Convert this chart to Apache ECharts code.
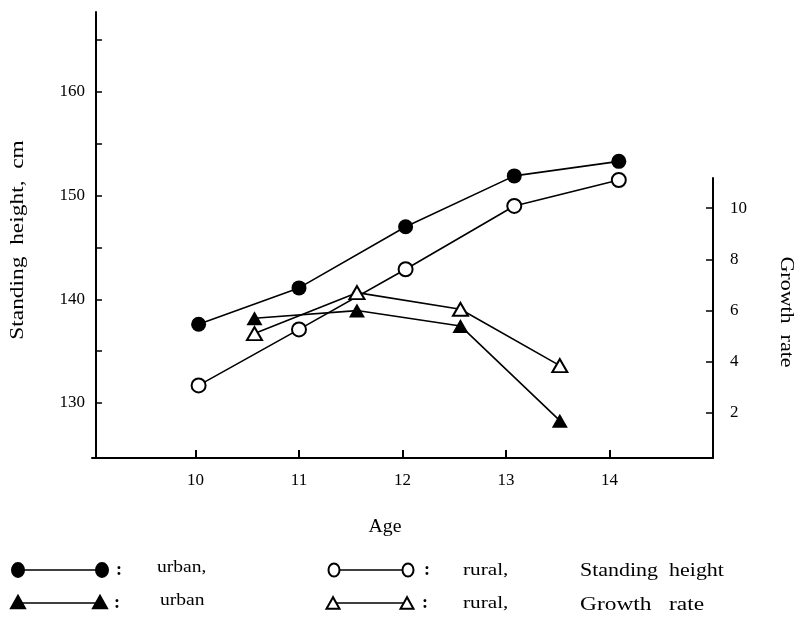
<!DOCTYPE html>
<html>
<head>
<meta charset="utf-8">
<script src="https://cdn.jsdelivr.net/npm/echarts@6/dist/echarts.min.js"></script>
<style>
  html, body { margin: 0; padding: 0; background: #fff; }
  #chart { width: 798px; height: 619px; }
</style>
</head>
<body>
<div id="chart"></div>
<script>
// Standing height (cm) by age, urban vs rural
const ages = [10.03, 11.0, 12.03, 13.08, 14.09];
const urbanHeight = [137.6, 141.1, 147.0, 151.9, 153.3];
const ruralHeight = [131.7, 137.1, 142.9, 149.0, 151.5];

// Yearly growth rate, plotted between ages
const rateAges = [10.57, 11.56, 12.56, 13.52];
const urbanRate = [5.7, 6.0, 5.4, 1.7];
const ruralRate = [5.1, 6.7, 6.05, 3.85];

// Tick labels
const ageTicks = [10, 11, 12, 13, 14];
const heightLabels = [130, 140, 150, 160];
const heightTicks = [130, 135, 140, 145, 150, 155, 160, 165];
const rateTicks = [2, 4, 6, 8, 10];

const FONT = 'Liberation Serif';
const INK = '#000';

function pairs(xs, ys) { return xs.map((x, i) => [x, ys[i]]); }

const chart = echarts.init(document.getElementById('chart'), null, { renderer: 'canvas' });

const lineStyle = { color: INK, width: 1.6 };

function tri(cx, cy, s, filled) {
  const h = s * 0.9;
  return {
    type: 'polygon',
    shape: { points: [[cx, cy - h / 2], [cx - s / 2, cy + h / 2], [cx + s / 2, cy + h / 2]] },
    style: { fill: filled ? INK : '#fff', stroke: INK, lineWidth: 2 }
  };
}
function oval(cx, cy, rx, ry, filled) {
  return {
    type: 'ellipse',
    shape: { cx: cx, cy: cy, rx: rx, ry: ry },
    style: { fill: filled ? INK : '#fff', stroke: INK, lineWidth: 2 }
  };
}
function seg(x1, x2, y) {
  return { type: 'line', shape: { x1: x1, y1: y, x2: x2, y2: y }, style: { stroke: INK, lineWidth: 1.5 } };
}
// Text with optional horizontal stretch and rotation; x/y is the anchor point
function txt(x, y, s, size, opts) {
  opts = opts || {};
  return {
    type: 'text', x: x, y: y,
    rotation: opts.rotation || 0,
    scaleX: opts.stretch || 1,
    style: {
      text: s, fill: INK,
      font: (opts.bold ? 'bold ' : '') + size + 'px "' + FONT + '"',
      textAlign: opts.align || 'left', textVerticalAlign: 'middle'
    }
  };
}

const r1 = 570, r2 = 603;
const legend = [
  seg(18, 102, r1), oval(18, r1, 6, 7, true), oval(102, r1, 6, 7, true), txt(116, r1, ':', 18, { bold: true }), txt(157, r1 - 2, 'urban,', 17, { stretch: 1.15 }),
  seg(18, 100, r2), tri(18, r2 - 1, 14, true), tri(100, r2 - 1, 14, true), txt(114, r2, ':', 18, { bold: true }), txt(160, r2 - 2, 'urban', 17, { stretch: 1.15 }),
  seg(334, 408, r1), oval(334, r1, 5.5, 6.5, false), oval(408, r1, 5.5, 6.5, false), txt(424, r1, ':', 18, { bold: true }), txt(463, r1 + 1, 'rural,', 17, { stretch: 1.25 }),
  seg(333, 407, r2), tri(333, r2, 13, false), tri(407, r2, 13, false), txt(422, r2, ':', 18, { bold: true }), txt(463, r2 + 1, 'rural,', 17, { stretch: 1.25 }),
  txt(580, r1 + 1, 'Standing  height', 18, { stretch: 1.22 }),
  txt(580, r2 + 2, 'Growth   rate', 18, { stretch: 1.3 })
];

const titles = [
  txt(18, 240, 'Standing  height,  cm', 18, { rotation: Math.PI / 2, align: 'center', stretch: 1.3 }),
  txt(786, 312, 'Growth  rate', 18, { rotation: -Math.PI / 2, align: 'center', stretch: 1.22 }),
  txt(385, 527, 'Age', 18, { align: 'center', stretch: 1.1 })
];

const axisLine = { show: true, lineStyle: { color: INK, width: 2 } };
const labelStyle = { color: INK, fontFamily: FONT, fontSize: 17 };

chart.setOption({
  animation: false,
  backgroundColor: '#fff',
  grid: [
    { left: 92, top: 12, width: 621, height: 446 },
    { left: 92, top: 178, width: 621, height: 280 }
  ],
  xAxis: [
    {
      gridIndex: 0, type: 'value', min: 9, max: 15,
      axisLine: axisLine,
      axisTick: { show: true, inside: true, length: 8, lineStyle: { color: INK, width: 2 }, customValues: ageTicks },
      axisLabel: Object.assign({ margin: 14, customValues: ageTicks }, labelStyle),
      splitLine: { show: false }
    },
    {
      gridIndex: 1, type: 'value', min: 9, max: 15, show: false
    }
  ],
  yAxis: [
    {
      gridIndex: 0, type: 'value', min: 124.7, max: 167.7, position: 'left', offset: -4,
      axisLine: axisLine,
      axisTick: { show: true, inside: true, length: 6, lineStyle: { color: INK, width: 1.5 }, customValues: heightTicks },
      axisLabel: Object.assign({ margin: 11, customValues: heightLabels }, labelStyle),
      splitLine: { show: false }
    },
    {
      gridIndex: 1, type: 'value', min: 0.24, max: 11.18, position: 'right',
      axisLine: axisLine,
      axisTick: { show: true, inside: true, length: 7, lineStyle: { color: INK, width: 1.5 }, customValues: rateTicks },
      axisLabel: Object.assign({ margin: 17, customValues: rateTicks }, labelStyle),
      splitLine: { show: false }
    }
  ],
  series: [
    {
      name: 'urban height', type: 'line', xAxisIndex: 0, yAxisIndex: 0,
      data: pairs(ages, urbanHeight),
      lineStyle: lineStyle, symbol: 'circle', symbolSize: 15,
      itemStyle: { color: INK, borderColor: INK, borderWidth: 0 }, z: 3
    },
    {
      name: 'rural height', type: 'line', xAxisIndex: 0, yAxisIndex: 0,
      data: pairs(ages, ruralHeight),
      lineStyle: lineStyle, symbol: 'circle', symbolSize: 14,
      itemStyle: { color: '#fff', borderColor: INK, borderWidth: 2 }, z: 3
    },
    {
      name: 'urban rate', type: 'line', xAxisIndex: 1, yAxisIndex: 1,
      data: pairs(rateAges, urbanRate),
      lineStyle: lineStyle, symbol: 'triangle', symbolSize: [16, 14],
      itemStyle: { color: INK, borderColor: INK, borderWidth: 0 }, z: 3
    },
    {
      name: 'rural rate', type: 'line', xAxisIndex: 1, yAxisIndex: 1,
      data: pairs(rateAges, ruralRate),
      lineStyle: lineStyle, symbol: 'triangle', symbolSize: [15, 13],
      itemStyle: { color: '#fff', borderColor: INK, borderWidth: 2 }, z: 3
    }
  ],
  graphic: legend.concat(titles)
});
</script>
</body>
</html>
